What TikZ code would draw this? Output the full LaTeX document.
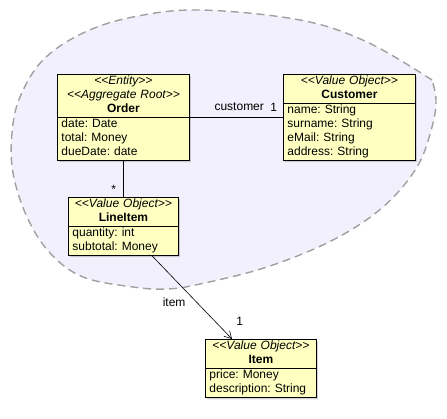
\documentclass[tikz,border=0pt]{standalone}
\usepackage{fontspec}
\setmainfont{Liberation Sans}
\usepackage{tikz}
\usetikzlibrary{shapes.multipart,shadows,arrows.meta}
\definecolor{classfill}{RGB}{255,255,194}
\definecolor{aggfill}{RGB}{242,240,252}
\definecolor{aggline}{RGB}{160,160,160}
\newcommand{\umlfont}{\fontsize{12}{14}\selectfont\frenchspacing}
\newcommand{\stereo}[1]{\textit{<{}<#1>{}>}}
\tikzset{
CLASS/.style={rectangle split, rectangle split parts=2, draw=black, line width=0.9pt,
  fill=classfill, text width=#1, inner xsep=4pt, inner ysep=0pt, font=\umlfont,
  drop shadow={shadow xshift=1.5pt, shadow yshift=-2pt, opacity=0.35}},
CLASS/.default = 124pt,
LINK/.style={draw=black, line width=0.6pt},
ROLE/.style={font=\umlfont, inner sep=1pt},
AGGREGATE/.style={draw=aggline, fill=aggfill, line width=1.4pt, dash pattern=on 8pt off 5pt},
}
\begin{document}
\begin{tikzpicture}
[x=1pt, y=-1pt]
	\useasboundingbox (0,0) rectangle (447,419);
	% aggregate boundary
	\path[AGGREGATE] plot[smooth, tension=0.6] coordinates {
		(432,80) (367,42) (300,20) (200,10) (133,17) (83,33) (43,60) (20,97)
		(12,133) (13,173) (27,217) (50,253) (83,277) (133,287) (167,289)
		(200,284) (267,267) (333,240) (383,207) (417,167) (432,127) (436,100)
		(432,80)} -- cycle;
	% classes
	\node[CLASS, anchor=north west] (order) at (57,74)
		{\centering\strut\stereo{Entity}\\\strut\stereo{Aggregate Root}\\\strut\textbf{Order}\par
		\nodepart{two}\strut date: Date\\\strut total: Money\\\strut dueDate: date};
	\node[CLASS, anchor=north west] (customer) at (283,74)
		{\centering\strut\stereo{Value Object}\\\strut\textbf{Customer}\par
		\nodepart{two}\strut name: String\\\strut surname: String\\\strut eMail: String\\\strut address: String};
	\node[CLASS=102pt, anchor=north west] (lineitem) at (68,197)
		{\centering\strut\stereo{Value Object}\\\strut\textbf{LineItem}\par
		\nodepart{two}\strut quantity: int\\\strut subtotal: Money};
	\node[CLASS=103pt, anchor=north west] (item) at (205,339)
		{\centering\strut\stereo{Value Object}\\\strut\textbf{Item}\par
		\nodepart{two}\strut price: Money\\\strut description: String};
	% associations
	\path[LINK] (order.text split east) -- (order.text split east -| customer.west)
		node[ROLE, pos=0.53, above=5pt] {customer}
		node[ROLE, pos=0.9, above=5pt] {1};
	\path[LINK] (order.south) -- (lineitem.north)
		node[ROLE, pos=0.78, left=6pt] {*};
	\path[LINK, -{Straight Barb[length=7pt, width=8pt]}]
		([xshift=-27pt]lineitem.south east) -- ([xshift=27pt]item.north west)
		node[ROLE, pos=0.56, left=10pt] {item}
		node[ROLE, pos=0.79, right=20pt] {1};
\end{tikzpicture}
\end{document}
